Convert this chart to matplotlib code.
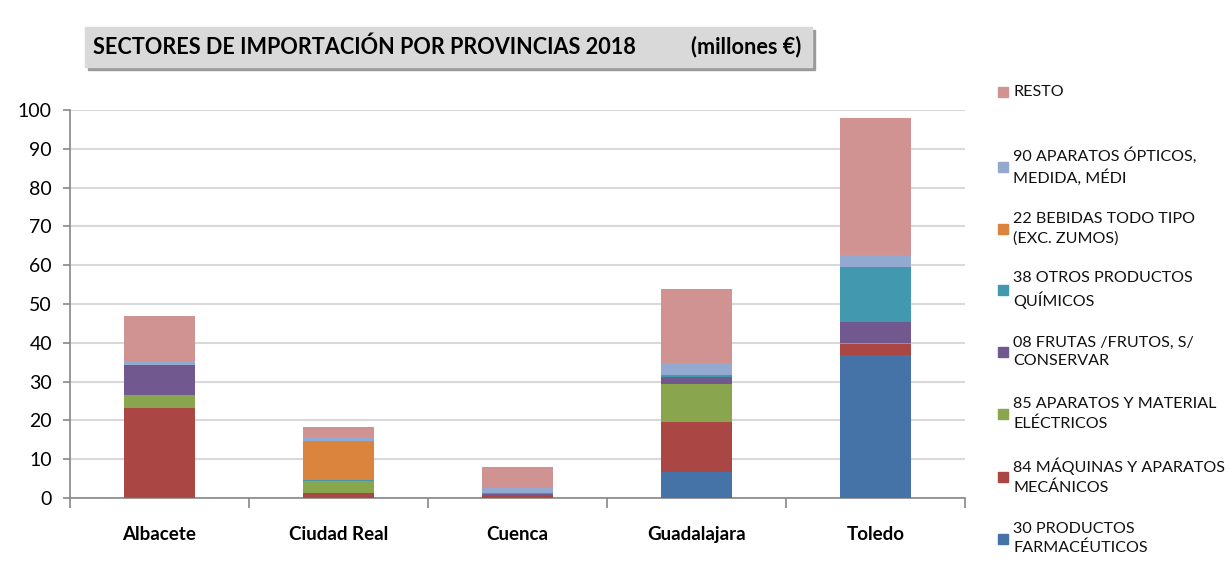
import numpy as np
import matplotlib
matplotlib.use('Agg')
from matplotlib import pyplot as plt
from matplotlib.patches import Rectangle

plt.rcParams['font.family'] = ['Lato', 'DejaVu Sans']

provincias = ['Albacete', 'Ciudad Real', 'Cuenca', 'Guadalajara', 'Toledo']

# millones de euros, de abajo arriba en cada barra
farma = [0.2, 0.0, 0.1, 6.6, 36.8]
maquinas = [23.0, 1.4, 0.3, 13.0, 2.8]
electricos = [3.3, 3.0, 0.1, 9.9, 0.4]
frutas = [7.7, 0.0, 0.6, 1.8, 5.4]
quimicos = [0.1, 0.3, 0.1, 0.4, 14.2]
bebidas = [0.0, 9.9, 0.0, 0.0, 0.0]
opticos = [1.0, 1.2, 1.5, 3.1, 3.1]
resto = [11.7, 2.5, 5.2, 19.0, 35.2]

series = [farma, maquinas, electricos, frutas, quimicos, bebidas, opticos, resto]
etiquetas = ['30 PRODUCTOS\nFARMACÉUTICOS',
             '84 MÁQUINAS Y APARATOS\nMECÁNICOS',
             '85 APARATOS Y MATERIAL\nELÉCTRICOS',
             '08 FRUTAS /FRUTOS, S/\nCONSERVAR',
             '38 OTROS PRODUCTOS\nQUÍMICOS',
             '22 BEBIDAS TODO TIPO\n(EXC. ZUMOS)',
             '90 APARATOS ÓPTICOS,\nMEDIDA, MÉDI',
             'RESTO']
colores = ['#4572A7', '#AA4643', '#89A54E', '#71588F',
           '#4198AF', '#DB843D', '#93A9CF', '#D19392']

fig = plt.figure(figsize=(12.29, 5.79), dpi=100)
W, H = 1229, 579
ax = fig.add_axes([70 / W, 1 - 498 / H, 895 / W, 388 / H])

x = np.arange(len(provincias))
base = np.zeros(len(provincias))
for vals, c in zip(series, colores):
    ax.bar(x, vals, width=0.4, bottom=base, color=c, edgecolor='none', zorder=3)
    base += np.array(vals)

ax.set_xlim(-0.5, 4.5)
ax.set_ylim(0, 100)
ax.set_yticks(range(0, 101, 10))
ax.yaxis.grid(True, color='#D9D9D9', linewidth=1.5, zorder=0)
ax.set_axisbelow(True)

ax.set_xticks(x)
ax.set_xticklabels(provincias, fontsize=13.5, fontweight='bold')
ax.set_xticks(np.arange(-0.5, 5, 1), minor=True)
ax.tick_params(axis='x', which='major', length=0, pad=20)
ax.tick_params(axis='x', which='minor', length=7, width=1.2, color='#888888')
ax.tick_params(axis='y', labelsize=14, length=5, width=1.2, color='#888888', pad=8)

for s in ['top', 'right']:
    ax.spines[s].set_visible(False)
for s in ['left', 'bottom']:
    ax.spines[s].set_color('#888888')
    ax.spines[s].set_linewidth(1.2)

# caja del titulo con sombra
fig.patches.append(Rectangle((88 / W, 1 - 70 / H), 727 / W, 40 / H,
                             transform=fig.transFigure, color='#9a9a9a', zorder=0))
fig.patches.append(Rectangle((85 / W, 1 - 67 / H), 727 / W, 40 / H,
                             transform=fig.transFigure, color='#D9D9D9', zorder=1))
fig.text(93 / W, 1 - 47 / H, 'SECTORES DE IMPORTACIÓN POR PROVINCIAS 2018',
         fontsize=15.6, fontweight='bold', va='center', ha='left', zorder=2)
fig.text(801 / W, 1 - 47 / H, '(millones €)',
         fontsize=15.6, fontweight='bold', va='center', ha='right', zorder=2)

# leyenda a la derecha, orden inverso
centros = [92, 166.5, 228.5, 290, 352, 414, 476.5, 538.5]
for yc, lab, c in zip(centros, etiquetas[::-1], colores[::-1]):
    fig.patches.append(Rectangle((998 / W, 1 - (yc + 5) / H), 10 / W, 10 / H,
                                 transform=fig.transFigure, color=c))
    fig.text(1013 / W, 1 - yc / H, lab, fontsize=11.6, va='center', ha='left',
             linespacing=1.45, color='#111111')

fig.savefig('out.png', dpi=100)
